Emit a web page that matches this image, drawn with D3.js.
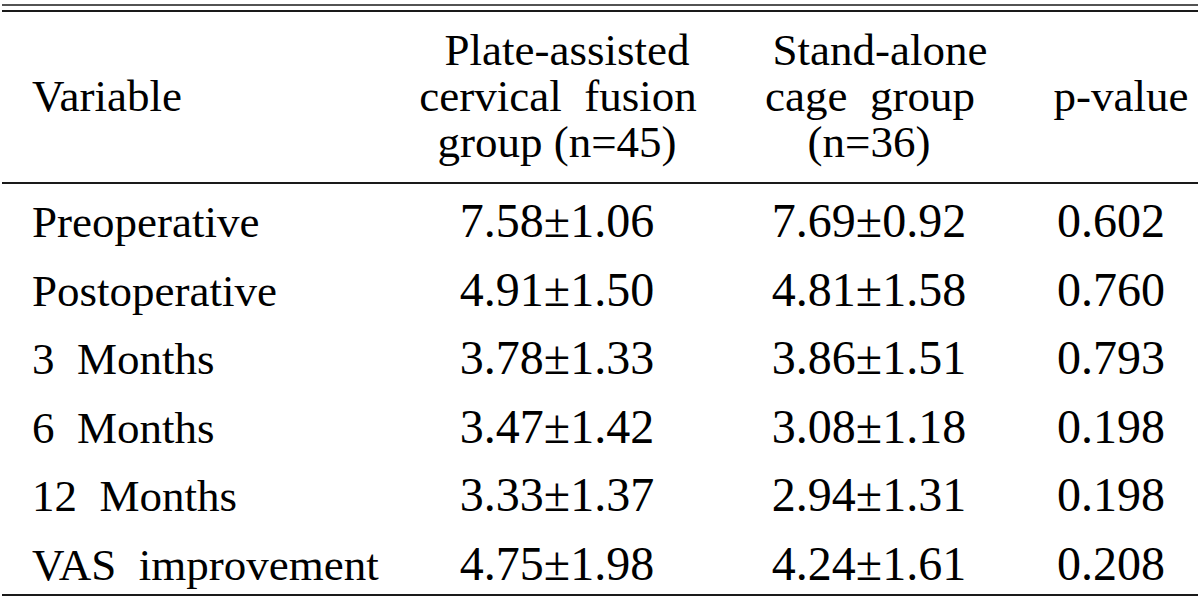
<!DOCTYPE html>
<html>
<head>
<meta charset="utf-8">
<title>VAS table</title>
<script src="https://cdn.jsdelivr.net/npm/d3@7"></script>
<style>
  body { margin: 0; background: #fff; }
  svg text { font-family: "Liberation Serif", "DejaVu Serif", serif; fill: #000; white-space: pre; }
</style>
</head>
<body>
<div id="table"></div>
<script>
// table data
var variables = ["Preoperative", "Postoperative", "3  Months", "6  Months", "12  Months", "VAS  improvement"];
var plateGroup = ["7.58\u00b11.06", "4.91\u00b11.50", "3.78\u00b11.33", "3.47\u00b11.42", "3.33\u00b11.37", "4.75\u00b11.98"];
var cageGroup = ["7.69\u00b10.92", "4.81\u00b11.58", "3.86\u00b11.51", "3.08\u00b11.18", "2.94\u00b11.31", "4.24\u00b11.61"];
var pValues = ["0.602", "0.760", "0.793", "0.198", "0.198", "0.208"];
var headers = [
  ["Variable"],
  ["Plate-assisted", "cervical  fusion", "group (n=45)"],
  ["Stand-alone", "cage  group", "(n=36)"],
  ["p-value"]
];

var width = 1200, height = 604;

var svg = d3.select("#table").append("svg")
  .attr("width", width)
  .attr("height", height);

// column anchors
var colX = [32, 557, 869, 1111];
// header line anchors (lines are not quite centred the same in the source)
var headX = [[32], [567, 558, 557], [880, 870, 869], [1121]];

// rows -> baselines
var y = d3.scalePoint()
  .domain(d3.range(variables.length))
  .range([237, 580]);

// rules
var rules = [
  {y: 5, w: 1.6},
  {y: 11, w: 2.2},
  {y: 183, w: 2.2},
  {y: 595, w: 2.2}
];
svg.selectAll("line.rule")
  .data(rules)
  .enter()
  .append("line")
  .attr("class", "rule")
  .attr("x1", 2)
  .attr("x2", 1198)
  .attr("y1", function(d) { return d.y; })
  .attr("y2", function(d) { return d.y; })
  .attr("stroke", "#1a1a1a")
  .attr("stroke-width", function(d) { return d.w; });

// header
var headLines = d3.scalePoint().domain([0, 1, 2]).range([65, 157]);
headers.forEach(function(lines, c) {
  var g = svg.append("g");
  lines.forEach(function(t, i) {
    var yy = lines.length == 1 ? headLines(1) : headLines(i);
    g.append("text")
      .attr("x", headX[c][i])
      .attr("y", yy)
      .attr("text-anchor", c == 0 ? "start" : "middle")
      .style("font-size", "45px")
      .text(t);
  });
});

// body
var cols = [variables, plateGroup, cageGroup, pValues];
cols.forEach(function(col, c) {
  svg.append("g")
    .selectAll("text")
    .data(col)
    .enter()
    .append("text")
    .attr("x", colX[c])
    .attr("y", function(d, i) { return y(i); })
    .attr("text-anchor", c == 0 ? "start" : "middle")
    .style("font-size", c == 0 ? "45px" : "48px")
    .text(function(d) { return d; });
});
</script>
</body>
</html>
